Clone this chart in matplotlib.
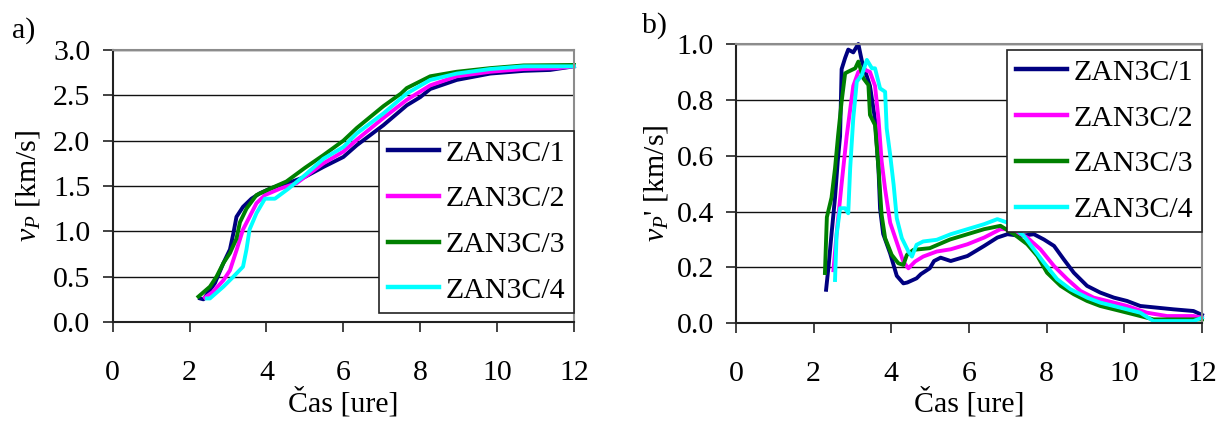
import matplotlib
matplotlib.use("Agg")
import matplotlib.pyplot as plt

plt.rcParams['font.family'] = ['Liberation Serif', 'DejaVu Serif']
plt.rcParams['mathtext.fontset'] = 'custom'
plt.rcParams['mathtext.rm'] = 'Liberation Serif'
plt.rcParams['mathtext.it'] = 'Liberation Serif:italic'

labels = ['ZAN3C/1', 'ZAN3C/2', 'ZAN3C/3', 'ZAN3C/4']
colors = ['#000080', '#FF00FF', '#008000', '#00FFFF']

# ---- panel a) : vP [km/s] vs time [h]
a1_t = [2.27, 2.36, 2.66, 2.88, 3.05, 3.14, 3.22, 3.39, 3.61, 3.83, 4.09, 4.35, 4.61, 5.0, 5.48, 6.0, 6.35, 7.04, 7.65, 8.0, 8.26, 8.95, 9.82, 10.69, 11.38, 12.0]
a1_v = [0.26, 0.25, 0.43, 0.65, 0.80, 0.98, 1.16, 1.27, 1.36, 1.42, 1.47, 1.51, 1.54, 1.60, 1.71, 1.82, 1.95, 2.17, 2.39, 2.48, 2.57, 2.67, 2.74, 2.77, 2.78, 2.82]
a2_t = [2.4, 2.6, 2.88, 3.05, 3.22, 3.39, 3.56, 3.74, 3.96, 4.35, 4.78, 5.48, 6.0, 6.35, 7.04, 7.65, 8.26, 8.95, 9.82, 10.69, 11.56, 12.0]
a2_v = [0.27, 0.33, 0.46, 0.57, 0.79, 1.02, 1.16, 1.31, 1.40, 1.47, 1.53, 1.75, 1.88, 2.01, 2.25, 2.45, 2.61, 2.71, 2.76, 2.79, 2.80, 2.82]
a3_t = [2.23, 2.53, 2.7, 2.88, 3.05, 3.22, 3.31, 3.48, 3.74, 4.09, 4.52, 5.0, 5.48, 6.0, 6.35, 7.04, 7.5, 7.65, 8.26, 8.95, 9.82, 10.69, 12.0]
a3_v = [0.28, 0.39, 0.50, 0.65, 0.76, 0.92, 1.10, 1.25, 1.40, 1.47, 1.55, 1.70, 1.84, 2.0, 2.14, 2.38, 2.52, 2.58, 2.71, 2.76, 2.80, 2.83, 2.835]
a4_t = [2.45, 2.53, 2.88, 3.14, 3.39, 3.48, 3.56, 3.74, 3.96, 4.22, 4.57, 5.0, 5.48, 6.0, 6.35, 7.04, 7.65, 8.26, 8.95, 9.82, 10.69, 12.0]
a4_v = [0.26, 0.26, 0.39, 0.50, 0.61, 0.80, 1.02, 1.20, 1.36, 1.36, 1.47, 1.62, 1.80, 1.93, 2.08, 2.30, 2.52, 2.67, 2.74, 2.79, 2.82, 2.82]

# ---- panel b) : vP' [km/s] vs time [h]
b1_t = [2.32, 2.38, 2.46, 2.55, 2.62, 2.68, 2.72, 2.81, 2.89, 3.02, 3.15, 3.24, 3.45, 3.58, 3.67, 3.71, 3.79, 3.97, 4.14, 4.31, 4.41, 4.65, 4.76, 4.99, 5.1, 5.27, 5.53, 5.96, 6.39, 6.73, 6.99, 7.33, 7.67, 7.93, 8.19, 8.44, 8.7, 9.04, 9.38, 9.73, 10.07, 10.41, 10.84, 11.27, 11.78, 12.0]
b1_v = [0.12, 0.20, 0.32, 0.45, 0.58, 0.67, 0.91, 0.95, 0.98, 0.97, 1.00, 0.94, 0.85, 0.73, 0.55, 0.41, 0.32, 0.25, 0.17, 0.143, 0.146, 0.161, 0.176, 0.197, 0.223, 0.235, 0.223, 0.241, 0.277, 0.307, 0.319, 0.313, 0.319, 0.30, 0.277, 0.229, 0.181, 0.134, 0.11, 0.092, 0.08, 0.062, 0.056, 0.05, 0.044, 0.03]
b2_t = [2.51, 2.59, 2.72, 2.85, 3.02, 3.15, 3.28, 3.45, 3.58, 3.67, 3.75, 3.84, 3.97, 4.14, 4.31, 4.44, 4.61, 4.82, 5.17, 5.53, 5.96, 6.39, 6.81, 7.07, 7.5, 7.84, 8.19, 8.53, 8.87, 9.21, 9.56, 10.07, 10.58, 11.1, 11.78, 12.0]
b2_v = [0.19, 0.32, 0.50, 0.67, 0.85, 0.90, 0.91, 0.90, 0.85, 0.73, 0.58, 0.48, 0.36, 0.29, 0.22, 0.197, 0.221, 0.239, 0.257, 0.265, 0.283, 0.307, 0.337, 0.337, 0.307, 0.265, 0.205, 0.158, 0.116, 0.092, 0.08, 0.062, 0.038, 0.026, 0.026, 0.02]
b3_t = [2.29, 2.34, 2.46, 2.55, 2.63, 2.72, 2.81, 2.89, 3.07, 3.15, 3.28, 3.41, 3.45, 3.58, 3.67, 3.75, 3.84, 4.01, 4.18, 4.31, 4.4, 4.57, 4.99, 5.51, 5.96, 6.39, 6.81, 7.16, 7.5, 7.76, 8.01, 8.36, 8.7, 9.04, 9.38, 9.9, 10.41, 10.75, 11.27, 11.78, 12.0]
b3_v = [0.18, 0.38, 0.45, 0.555, 0.674, 0.794, 0.895, 0.901, 0.913, 0.937, 0.877, 0.853, 0.746, 0.71, 0.555, 0.388, 0.305, 0.245, 0.215, 0.209, 0.245, 0.263, 0.269, 0.30, 0.319, 0.337, 0.349, 0.319, 0.283, 0.241, 0.181, 0.134, 0.104, 0.08, 0.062, 0.044, 0.026, 0.014, 0.014, 0.014, 0.014]
b4_t = [2.55, 2.59, 2.68, 2.81, 2.89, 2.94, 3.02, 3.11, 3.24, 3.37, 3.5, 3.58, 3.71, 3.84, 3.88, 3.97, 4.06, 4.14, 4.27, 4.44, 4.53, 4.65, 4.82, 5.17, 5.53, 5.96, 6.39, 6.73, 7.0, 7.41, 7.67, 7.93, 8.27, 8.61, 9.04, 9.38, 9.9, 10.41, 10.75, 11.27, 11.78, 12.0]
b4_v = [0.155, 0.316, 0.412, 0.412, 0.394, 0.555, 0.734, 0.865, 0.889, 0.943, 0.913, 0.913, 0.841, 0.829, 0.698, 0.603, 0.495, 0.376, 0.305, 0.257, 0.239, 0.281, 0.293, 0.299, 0.319, 0.337, 0.355, 0.373, 0.36, 0.313, 0.265, 0.217, 0.158, 0.122, 0.092, 0.074, 0.056, 0.038, 0.008, 0.008, 0.008, 0.02]

x_ticks = [0, 2, 4, 6, 8, 10, 12]
ya_ticks = [0.0, 0.5, 1.0, 1.5, 2.0, 2.5, 3.0]
yb_ticks = [0.0, 0.2, 0.4, 0.6, 0.8, 1.0]

W, H = 1218, 421
fig = plt.figure(figsize=(W / 100, H / 100), dpi=100)

def px_axes(l, r, t, b):
    return fig.add_axes([l / W, 1 - b / H, (r - l) / W, (b - t) / H])

axa = px_axes(112.7, 574, 50, 322)
axb = px_axes(736, 1202, 44, 323.3)

FS = 21.5

def style(ax, yticks, ylabel, fmt, ylab_x, leg_xy, bottom_px, height_px):
    ax.set_xlim(0, 12)
    ax.set_ylim(yticks[0], yticks[-1])
    ax.set_xticks(x_ticks)
    ax.set_xticklabels([str(v) for v in x_ticks])
    ax.set_yticks(yticks)
    ax.set_yticklabels([fmt.format(v) for v in yticks])
    ax.tick_params(axis='both', labelsize=FS, direction='out', length=7, width=1.2, color='#222222')
    ax.tick_params(axis='y', pad=9)
    ax.tick_params(axis='x', pad=20)
    for y in yticks[1:]:
        ax.axhline(y, color='#111111', lw=1.0, zorder=1)
    for s in ['top', 'right']:
        ax.spines[s].set_color('#8c8c8c')
        ax.spines[s].set_linewidth(1.5)
    for s in ['left', 'bottom']:
        ax.spines[s].set_color('#222222')
        ax.spines[s].set_linewidth(1.5)
    for s in ax.spines.values():
        s.set_zorder(5)
    ax.set_xlabel('Čas [ure]', fontsize=FS, va='baseline')
    ax.xaxis.set_label_coords(0.5, (bottom_px - 412) / height_px)
    ax.set_ylabel(ylabel, fontsize=FS)
    ax.yaxis.set_label_coords(ylab_x, 0.5)
    leg = ax.legend(loc='upper left', bbox_to_anchor=leg_xy, bbox_transform=fig.transFigure,
                    fontsize=FS, frameon=True, fancybox=False, framealpha=1,
                    edgecolor='#222222', borderaxespad=0, handlelength=1.71,
                    handletextpad=0.23, borderpad=0.3, labelspacing=0.63)
    leg.get_frame().set_linewidth(1.2)
    leg.set_zorder(10)
    for h in leg.get_lines():
        h.set_linewidth(3.2)

series_a = [(a1_t, a1_v), (a2_t, a2_v), (a3_t, a3_v), (a4_t, a4_v)]
series_b = [(b1_t, b1_v), (b2_t, b2_v), (b3_t, b3_v), (b4_t, b4_v)]

for (t, v), c, lab in zip(series_a, colors, labels):
    axa.plot(t, v, color=c, lw=2.8, label=lab, zorder=3, clip_on=False)
for (t, v), c, lab in zip(series_b, colors, labels):
    axb.plot(t, v, color=c, lw=2.8, label=lab, zorder=3, clip_on=False)

style(axa, ya_ticks, r'$v_P$ [km/s]', '{:.1f}', -0.153, (379 / W, 1 - 130.7 / H), 322, 272)
style(axb, yb_ticks, r"$v_P$' [km/s]", '{:.1f}', -0.142, (1007 / W, 1 - 50 / H), 323.3, 279.3)

fig.text(12 / W, 1 - 38 / H, 'a)', fontsize=FS, ha='left', va='baseline')
fig.text(642 / W, 1 - 33 / H, 'b)', fontsize=FS, ha='left', va='baseline')

fig.savefig('out.png', dpi=100)
